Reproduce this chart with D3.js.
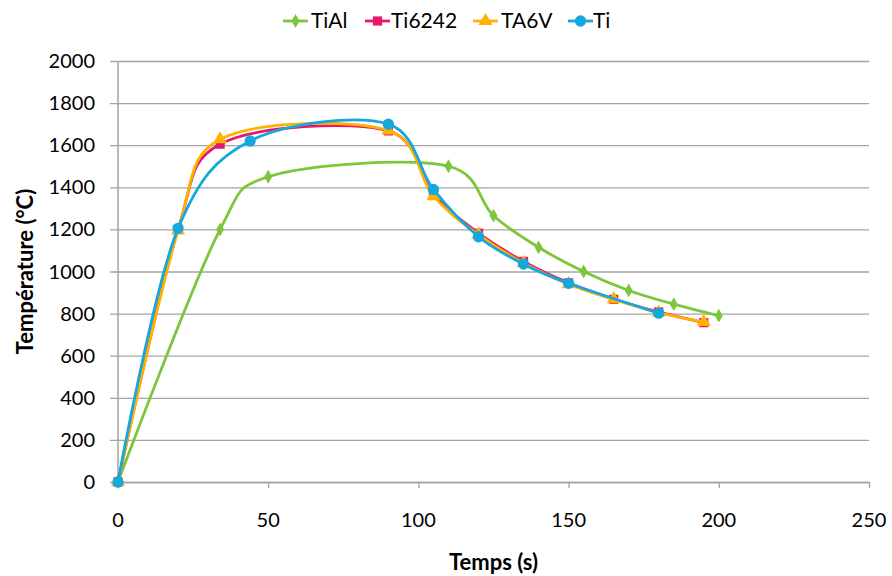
<!DOCTYPE html>
<html>
<head>
<meta charset="utf-8">
<script src="https://cdn.jsdelivr.net/npm/d3@7"></script>
<style>
  body { margin: 0; background: #fff; }
  svg { display: block; font-family: Lato, "Open Sans", sans-serif; }
</style>
</head>
<body>
<div id="chart"></div>
<script>
// Data
const seriesNames = ["TiAl", "Ti6242", "TA6V", "Ti"];

const timeTiAl = [0, 34, 50, 110, 125, 140, 155, 170, 185, 200];
const tempTiAl = [0, 1200, 1450, 1500, 1265, 1115, 1000, 910, 845, 790];

const timeTi6242 = [0, 20, 34, 90, 105, 120, 135, 150, 165, 180, 195];
const tempTi6242 = [0, 1200, 1605, 1668, 1366, 1182, 1048, 946, 868, 808, 757];

const timeTA6V = [0, 20, 34, 90, 105, 120, 135, 150, 165, 180, 195];
const tempTA6V = [0, 1195, 1628, 1670, 1358, 1175, 1040, 940, 868, 805, 760];

const timeTi = [0, 20, 44, 90, 105, 120, 135, 150, 180];
const tempTi = [0, 1205, 1620, 1700, 1390, 1165, 1035, 944, 802];

const xTicks = [0, 50, 100, 150, 200, 250];
const yTicks = [0, 200, 400, 600, 800, 1000, 1200, 1400, 1600, 1800, 2000];

const width = 892, height = 576;
const margin = { top: 61, right: 23, bottom: 94, left: 118 };

// series styles
const styles = [
  { color: "#7dc63c", symbol: d3.symbolDiamond, size: 55 },
  { color: "#e6176f", symbol: d3.symbolSquare, size: 85 },
  { color: "#ffb200", symbol: d3.symbolTriangle, size: 85 },
  { color: "#15a8dc", symbol: d3.symbolCircle, size: 100 },
];

const series = [
  [timeTiAl, tempTiAl],
  [timeTi6242, tempTi6242],
  [timeTA6V, tempTA6V],
  [timeTi, tempTi],
].map(([t, v], i) => ({
  name: seriesNames[i],
  style: styles[i],
  points: t.map((x, j) => ({ x, y: v[j] })),
}));

const x = d3.scaleLinear().domain([0, 250]).range([margin.left, width - margin.right]);
const y = d3.scaleLinear().domain([0, 2000]).range([height - margin.bottom, margin.top]);

const svg = d3.select("#chart").append("svg")
  .attr("width", width)
  .attr("height", height);

const gridColor = "#a3a3a3";

// Horizontal gridlines (with the little tick stub on the left)
svg.append("g")
  .attr("transform", `translate(${margin.left},0)`)
  .call(d3.axisLeft(y).tickValues(yTicks).tickSize(-(width - margin.right - margin.left)).tickSizeOuter(0).tickFormat(""))
  .call((g) => g.select(".domain").remove())
  .call((g) => g.selectAll(".tick line").attr("stroke", gridColor).attr("stroke-width", 1.3).attr("x1", -8));

// y tick labels
svg.append("g")
  .selectAll("text")
  .data(yTicks)
  .join("text")
  .attr("x", 95)
  .attr("y", (d) => y(d))
  .attr("dy", "0.35em")
  .attr("text-anchor", "end")
  .attr("font-size", 20)
  .attr("fill", "#000")
  .text((d) => d);

// y axis line
svg.append("line")
  .attr("x1", x(0)).attr("x2", x(0))
  .attr("y1", y(2000)).attr("y2", y(0))
  .attr("stroke", gridColor).attr("stroke-width", 1.5);

// x axis
svg.append("g")
  .attr("transform", `translate(0,${y(0)})`)
  .call(d3.axisBottom(x).tickValues(xTicks).tickSize(6).tickSizeOuter(0).tickFormat(""))
  .call((g) => g.select(".domain").attr("stroke", gridColor).attr("stroke-width", 1.5))
  .call((g) => g.selectAll(".tick line").attr("stroke", gridColor).attr("stroke-width", 1.3));

svg.append("g")
  .selectAll("text")
  .data(xTicks)
  .join("text")
  .attr("x", (d) => x(d))
  .attr("y", 520)
  .attr("dy", "0.35em")
  .attr("text-anchor", "middle")
  .attr("font-size", 20)
  .attr("fill", "#000")
  .text((d) => d);

// axis titles
svg.append("text")
  .attr("x", (x(0) + x(250)) / 2)
  .attr("y", 562)
  .attr("dy", "0.35em")
  .attr("text-anchor", "middle")
  .attr("font-size", 22)
  .attr("font-weight", "bold")
  .text("Temps (s)");

svg.append("text")
  .attr("transform", `translate(25,${(y(0) + y(2000)) / 2}) rotate(-90)`)
  .attr("dy", "0.35em")
  .attr("text-anchor", "middle")
  .attr("font-size", 22)
  .attr("font-weight", "bold")
  .text("Température (°C)");

// lines
const line = d3.line()
  .x((d) => x(d.x))
  .y((d) => y(d.y))
  .curve(d3.curveCatmullRom.alpha(0.15));

const sg = svg.append("g")
  .selectAll("g")
  .data(series)
  .join("g");

sg.append("path")
  .attr("d", (d) => line(d.points))
  .attr("fill", "none")
  .attr("stroke", (d) => d.style.color)
  .attr("stroke-width", 2.8)
  .attr("stroke-linejoin", "round");

sg.selectAll("path.marker")
  .data((d) => d.points.map((p) => ({ ...p, style: d.style })))
  .join("path")
  .attr("class", "marker")
  .attr("transform", (d) => `translate(${x(d.x)},${y(d.y)})`)
  .attr("d", (d) => d3.symbol(d.style.symbol, d.style.size)())
  .attr("fill", (d) => d.style.color);

// legend
const legendItems = [
  { x: 283, textX: 311 },
  { x: 365, textX: 391 },
  { x: 473, textX: 501 },
  { x: 568, textX: 593 },
];
const legendY = 21;
const legend = svg.append("g")
  .selectAll("g")
  .data(series)
  .join("g");

legend.append("line")
  .attr("x1", (d, i) => legendItems[i].x)
  .attr("x2", (d, i) => legendItems[i].x + 25)
  .attr("y1", legendY).attr("y2", legendY)
  .attr("stroke", (d) => d.style.color)
  .attr("stroke-width", 2.8);

legend.append("path")
  .attr("transform", (d, i) => `translate(${legendItems[i].x + 12.5},${legendY})`)
  .attr("d", (d) => d3.symbol(d.style.symbol, d.style.size)())
  .attr("fill", (d) => d.style.color);

legend.append("text")
  .attr("x", (d, i) => legendItems[i].textX)
  .attr("y", legendY)
  .attr("dy", "0.35em")
  .attr("font-size", 21)
  .attr("fill", "#000")
  .text((d) => d.name);
</script>
</body>
</html>
